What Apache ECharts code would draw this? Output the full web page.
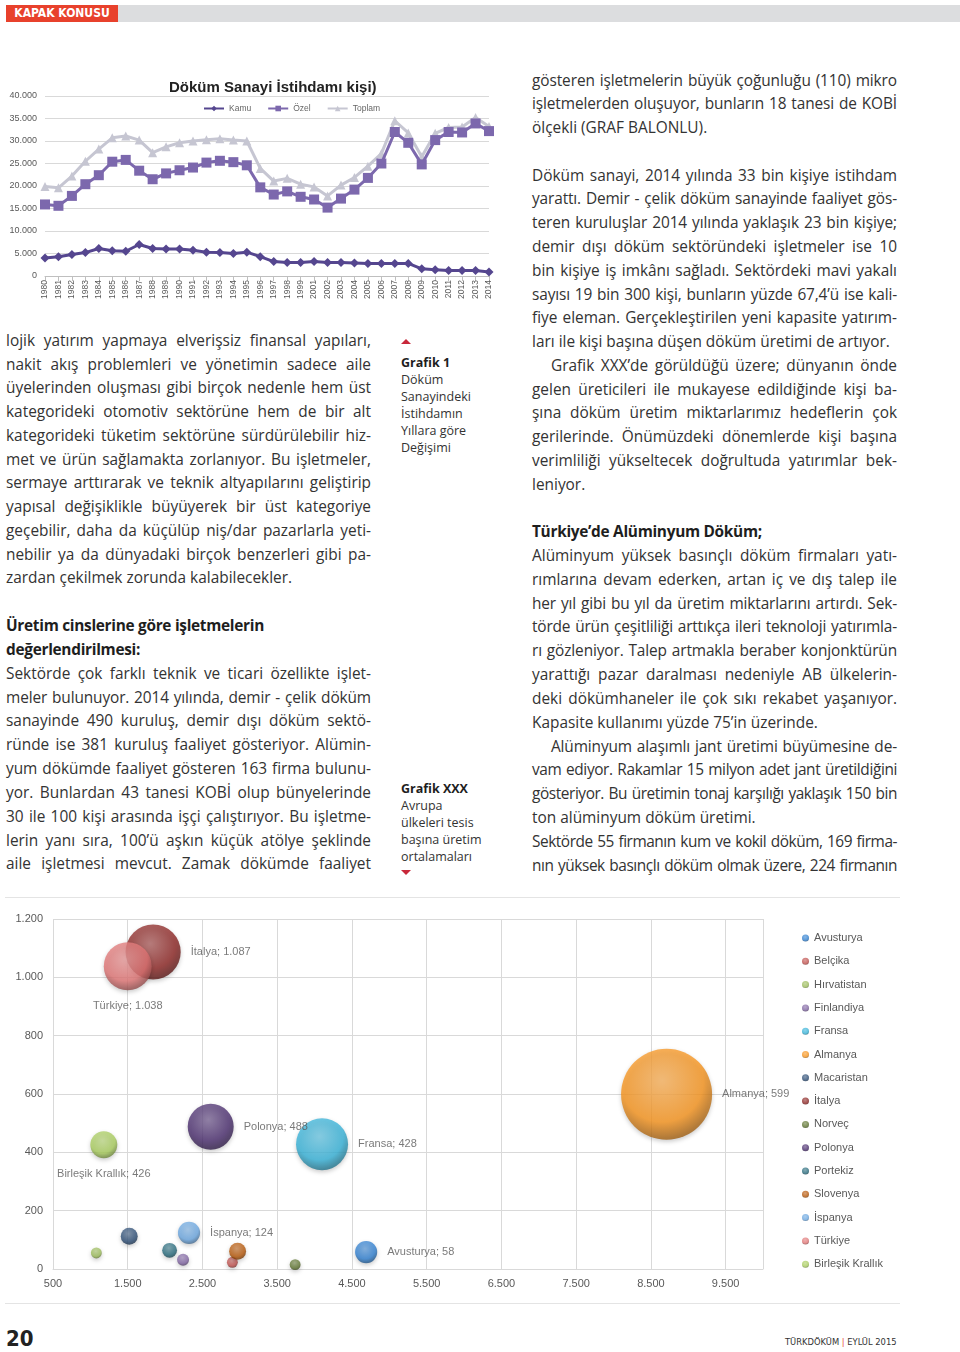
<!DOCTYPE html>
<html><head><meta charset="utf-8">
<script src="https://cdn.jsdelivr.net/npm/echarts@6/dist/echarts.min.js"></script>
<style>
html,body{margin:0;padding:0;background:#fff;}
body{width:960px;height:1352px;position:relative;overflow:hidden;font-family:'Open Sans',sans-serif;color:#333;}
.ln{position:absolute;white-space:nowrap;line-height:24px;height:24px;}
.cap{position:absolute;left:401px;font-size:12.5px;line-height:17px;color:#333;white-space:nowrap;}
#hdrRed{position:absolute;left:6px;top:5px;width:112px;height:17px;background:#e8412c;color:#fff;font:bold 12px 'Liberation Sans Narrow','DejaVu Sans Condensed',sans-serif;line-height:17px;text-align:center;}
#hdrGray{position:absolute;left:118px;top:5px;right:0;height:17px;background:#dcdddf;}
#c1{position:absolute;left:5px;top:65px;width:500px;height:250px;}
#c2{position:absolute;left:5px;top:897px;width:895px;height:405px;border-top:1px solid #e4e4e4;border-bottom:1px solid #e4e4e4;}
#pg{position:absolute;left:6px;top:1326px;font:bold 22px 'Liberation Sans Narrow','DejaVu Sans Condensed',sans-serif;color:#222;}
#mag{position:absolute;left:785px;top:1336px;font:9.3px 'Liberation Sans Narrow','DejaVu Sans Condensed',sans-serif;color:#333;}
.tri{position:absolute;left:401px;width:0;height:0;border-left:5px solid transparent;border-right:5px solid transparent;}
</style></head>
<body>
<div id="hdrRed">KAPAK KONUSU</div><div id="hdrGray"></div>
<div id="c1"></div>
<div id="c2"></div>
<div class="tri" style="top:339px;border-bottom:5px solid #c8283a;"></div>
<div class="tri" style="top:870px;border-top:5px solid #c8283a;"></div>
<div id="pg">20</div>
<div id="mag">TÜRKDÖKÜM <span style="color:#e8412c">|</span> EYLÜL 2015</div>
<script>
// ---------- Chart 1 data: Döküm Sanayi İstihdamı ----------
const years = ['1980','1981','1982','1983','1984','1985','1986','1987','1988','1989','1990','1991','1992','1993','1994','1995','1996','1997','1998','1999','2001','2002','2003','2004','2005','2006','2007','2008','2009','2010','2011','2012','2013','2014'];
const kamu = [4000,4300,4800,5200,6100,5600,5500,7000,6100,6000,6000,5700,5300,5200,5000,5300,4300,3200,3000,3000,3200,3000,3000,2900,2800,2800,2800,2800,1600,1400,1200,1200,1200,900];
const ozel = [15900,15600,17800,20400,22400,25400,25800,23400,21500,22800,23500,24100,25200,25600,25300,24600,19700,18100,18800,17600,17000,15200,17200,19200,21800,25000,32000,29600,24800,30200,32000,31900,33900,32200];
const toplam = [19900,19600,22200,25500,28200,30700,31100,30200,27400,28700,29600,30000,30300,30500,30200,30000,23900,21100,21700,20400,19800,17800,20200,21900,24400,27200,34500,31800,26500,31700,33000,33100,35200,33200];

// ---------- Chart 2 data: Avrupa ülkeleri tesis başına üretim ----------
const countries = ['Avusturya','Belçika','Hırvatistan','Finlandiya','Fransa','Almanya','Macaristan','İtalya','Norveç','Polonya','Portekiz','Slovenya','İspanya','Türkiye','Birleşik Krallık'];
const xVals = [4690,2900,1080,2240,4100,8710,1520,1840,3740,2610,2060,2970,2320,1500,1180];
const yVals = [58,23,55,32,428,599,112,1087,15,488,64,61,124,1038,426];
const sizeVals = [290,70,70,85,1600,4900,170,1800,70,1250,130,170,290,1360,430];

const fmt = v => String(v).replace(/\B(?=(\d{3})+(?!\d))/g, '.');

// ---------- Chart 1 ----------
const c1 = echarts.init(document.getElementById('c1'));
const axisTxt = {color:'#595959', fontFamily:"'Liberation Sans',sans-serif"};
c1.setOption({
  animation:false,
  title:{text:'Döküm Sanayi İstihdamı kişi)', left:159, top:10, textStyle:{fontSize:15, fontWeight:'bold', color:'#222', fontFamily:"'Liberation Sans',sans-serif"}},
  legend:{left:193, top:34, itemWidth:20, itemHeight:7, itemGap:16, data:['Kamu','Özel','Toplam'], textStyle:{fontSize:8.5, color:'#666', fontFamily:"'Liberation Sans',sans-serif"}},
  grid:{left:40, right:16, top:31, bottom:39},
  xAxis:{type:'category', data:years, boundaryGap:false,
    axisLine:{lineStyle:{color:'#bfbfbf'}}, axisTick:{show:true, lineStyle:{color:'#bfbfbf'}},
    axisLabel:Object.assign({interval:0, rotate:90, fontSize:8.5, margin:4}, axisTxt)},
  yAxis:{type:'value', min:0, max:40000, interval:5000,
    axisLine:{show:false}, axisTick:{show:false},
    splitLine:{lineStyle:{color:'#d9d9d9'}},
    axisLabel:Object.assign({fontSize:9, margin:8, formatter:fmt}, axisTxt)},
  series:[
    {name:'Kamu', type:'line', data:kamu, z:3, symbol:'diamond', symbolSize:9, lineStyle:{width:3, color:'#55468f'}, itemStyle:{color:'#55468f'}},
    {name:'Özel', type:'line', data:ozel, z:3, symbol:'rect', symbolSize:10, lineStyle:{width:3, color:'#7c68ad'}, itemStyle:{color:'#7c68ad'}},
    {name:'Toplam', type:'line', data:toplam, z:2, symbol:'triangle', symbolSize:9, lineStyle:{width:3, color:'#c6c6d2'}, itemStyle:{color:'#c6c6d2'}}
  ]
});

// ---------- Chart 2 ----------
const colors = ['#2f7fd0','#c0504d','#9bbb59','#8064a2','#36b2d8','#f7941d','#2c4d75','#8c2523','#5f7530','#4a2d6e','#276a7c','#b65708','#6aa6e0','#e07474','#a8cc5c'];
const labelPos = {'İtalya':'right','Türkiye':'bottom','Polonya':'right','Fransa':'right','Birleşik Krallık':'bottom','Almanya':'right','İspanya':'right','Avusturya':'right'};
function shade(hex, amt){
  const n = parseInt(hex.slice(1),16); let r=n>>16, g=(n>>8)&255, b=n&255;
  const f = c => Math.max(0, Math.min(255, Math.round(amt>0 ? c+(255-c)*amt : c*(1+amt))));
  return 'rgb('+f(r)+','+f(g)+','+f(b)+')';
}
const series2 = countries.map((name,i)=>({
  name, type:'scatter',
  data:[[xVals[i], yVals[i], sizeVals[i]]],
  symbolSize: v => Math.sqrt(v[2])*1.3,
  itemStyle:{color:{type:'radial', x:0.45, y:0.35, r:0.65, colorStops:[
      {offset:0, color:shade(colors[i],0.3)},{offset:0.7, color:colors[i]},{offset:1, color:shade(colors[i],-0.35)}]},
    shadowColor:'rgba(0,0,0,0.25)', shadowBlur:4, shadowOffsetY:2},
  label:{show: !!labelPos[name], position: labelPos[name]||'right', distance:10,
    formatter: p => p.seriesName + '; ' + fmt(p.value[1]),
    fontSize:11, color:'#595959', fontFamily:"'Liberation Sans',sans-serif"}
}));
const c2 = echarts.init(document.getElementById('c2'));
c2.setOption({
  animation:false,
  color:colors,
  grid:{left:48, right:137, top:21, bottom:34},
  legend:{orient:'vertical', left:792, top:29, icon:'circle', itemWidth:7, itemHeight:7, itemGap:11.3,
    data:countries, textStyle:{fontSize:11, color:'#595959', lineHeight:12, fontFamily:"'Liberation Sans',sans-serif"}},
  xAxis:{type:'value', min:500, max:10000, interval:1000,
    axisLine:{show:true, lineStyle:{color:'#d9d9d9'}}, axisTick:{show:false},
    splitLine:{lineStyle:{color:'#d9d9d9'}},
    axisLabel:Object.assign({fontSize:11, margin:9, formatter:fmt, showMaxLabel:false}, axisTxt)},
  yAxis:{type:'value', min:0, max:1200, interval:200,
    axisLine:{show:false}, axisTick:{show:false},
    splitLine:{lineStyle:{color:'#d9d9d9'}},
    axisLabel:Object.assign({fontSize:11, margin:10, formatter:fmt}, axisTxt)},
  series:series2
});

// ---------- Page text ----------
const canvas = document.createElement('canvas'); const ctx = canvas.getContext('2d');
const FF = "'Open Sans', sans-serif";
function tw(t, size, wt){ ctx.font = (wt||400)+' '+size+'px '+FF; return ctx.measureText(t).width; }
const FS = (16*290/tw('zardan çekilmek zorunda kalabilecekler.',16) + 16*221/tw('ton alüminyum döküm üretimi.',16))/2;
const HEAD = 'Üretim cinslerine göre işletmelerin';
const LSB = (258 - tw(HEAD, FS, 700)) / HEAD.length;
function addLine(x, w, y, text, mode){
  text = text.replace(/\s+/g,' ');
  const d = document.createElement('div'); d.className='ln'; d.textContent = text;
  let wt = 400, indent = 0;
  if(mode==='b'){ wt=700; d.style.fontWeight='700'; d.style.color='#1e1e1e'; d.style.letterSpacing = LSB+'px'; }
  if(mode==='ji'||mode==='li') indent = 19;
  d.style.left = (x+indent)+'px'; d.style.top = (y-12)+'px'; d.style.fontSize = FS+'px';
  if(mode==='j'||mode==='ji'){
    const avail = w-indent;
    const nat = tw(text, FS, wt); const sp = (text.match(/ /g)||[]).length;
    if(nat + sp*1 > avail){
      const ls = (avail - nat - sp*1) / text.length;
      d.style.letterSpacing = ls+'px';
      d.style.wordSpacing = '1px';
    } else if(sp>0){
      d.style.wordSpacing = ((avail-nat)/sp)+'px';
    }
  }
  document.body.appendChild(d);
}
const leftLines = [
 [341,'lojik yatırım yapmaya elverişsiz finansal yapıları,','j'],
 [365,'nakit akış problemleri ve yönetimin sadece aile','j'],
 [388,'üyelerinden oluşması gibi birçok nedenle hem üst','j'],
 [412,'kategorideki otomotiv sektörüne hem de bir alt','j'],
 [436,'kategorideki tüketim sektörüne sürdürülebilir hiz-','j'],
 [460,'met ve ürün sağlamakta zorlanıyor. Bu işletmeler,','j'],
 [483,'sermaye arttırarak ve teknik altyapılarını geliştirip','j'],
 [507,'yapısal değişiklikle büyüyerek bir üst kategoriye','j'],
 [531,'geçebilir, daha da küçülüp niş/dar pazarlarla yeti-','j'],
 [555,'nebilir ya da dünyadaki birçok benzerleri gibi pa-','j'],
 [578,'zardan çekilmek zorunda kalabilecekler.','l'],
 [626,'Üretim cinslerine göre işletmelerin','b'],
 [650,'değerlendirilmesi:','b'],
 [674,'Sektörde çok farklı teknik ve ticari özellikte işlet-','j'],
 [698,'meler bulunuyor. 2014 yılında, demir - çelik döküm','j'],
 [721,'sanayinde 490 kuruluş, demir dışı döküm sektö-','j'],
 [745,'ründe ise 381 kuruluş faaliyet gösteriyor. Alümin-','j'],
 [769,'yum dökümde faaliyet gösteren 163 firma bulunu-','j'],
 [793,'yor. Bunlardan 43 tanesi KOBİ olup bünyelerinde','j'],
 [817,'30 ile 100 kişi arasında işçi çalıştırıyor. Bu işletme-','j'],
 [841,'lerin yanı sıra, 100’ü aşkın küçük atölye şeklinde','j'],
 [864,'aile işletmesi mevcut. Zamak dökümde faaliyet','j']
];
const rightLines = [
 [81,'gösteren işletmelerin büyük çoğunluğu (110) mikro','j'],
 [104,'işletmelerden oluşuyor,  bunların 18 tanesi de KOBİ','j'],
 [128,'ölçekli (GRAF BALONLU).','l'],
 [176,'Döküm sanayi, 2014 yılında 33 bin kişiye istihdam','j'],
 [199,'yarattı. Demir - çelik döküm sanayinde faaliyet gös-','j'],
 [223,'teren kuruluşlar 2014 yılında yaklaşık 23 bin kişiye;','j'],
 [247,'demir dışı döküm sektöründeki işletmeler ise 10','j'],
 [271,'bin kişiye iş imkânı sağladı. Sektördeki mavi yakalı','j'],
 [295,'sayısı 19 bin 300 kişi, bunların yüzde 67,4’ü ise kali-','j'],
 [318,'fiye eleman. Gerçekleştirilen yeni kapasite yatırım-','j'],
 [342,'ları ile kişi başına düşen döküm üretimi de artıyor.','l'],
 [366,'Grafik XXX’de görüldüğü üzere; dünyanın önde','ji'],
 [390,'gelen üreticileri ile mukayese edildiğinde kişi ba-','j'],
 [413,'şına döküm üretim miktarlarımız hedeflerin çok','j'],
 [437,'gerilerinde. Önümüzdeki dönemlerde kişi başına','j'],
 [461,'verimliliği yükseltecek doğrultuda yatırımlar bek-','j'],
 [485,'leniyor.','l'],
 [532,'Türkiye’de Alüminyum Döküm;','b'],
 [556,'Alüminyum yüksek basınçlı döküm firmaları yatı-','j'],
 [580,'rımlarına devam ederken, artan iç ve dış talep ile','j'],
 [604,'her yıl gibi bu yıl da üretim miktarlarını artırdı. Sek-','j'],
 [627,'törde ürün çeşitliliği arttıkça ileri teknoloji yatırımla-','j'],
 [651,'rı gözleniyor. Talep artmakla beraber konjonktürün','j'],
 [675,'yarattığı pazar daralması nedeniyle AB ülkelerin-','j'],
 [699,'deki dökümhaneler ile çok sıkı rekabet yaşanıyor.','j'],
 [723,'Kapasite kullanımı yüzde 75’in üzerinde.','l'],
 [747,'Alüminyum alaşımlı jant üretimi büyümesine de-','ji'],
 [770,'vam ediyor. Rakamlar 15 milyon adet jant üretildiğini','j'],
 [794,'gösteriyor.  Bu üretimin tonaj karşılığı yaklaşık 150 bin','j'],
 [818,'ton alüminyum döküm üretimi.','l'],
 [842,'Sektörde 55 firmanın kum ve kokil döküm, 169 firma-','j'],
 [866,'nın yüksek basınçlı döküm olmak üzere, 224 firmanın','j']
];
leftLines.forEach(l=>addLine(6,365,l[0],l[1],l[2]));
rightLines.forEach(l=>addLine(532,365,l[0],l[1],l[2]));
const caps = [
 [363,'Grafik 1',true],[380,'Döküm'],[397,'Sanayindeki'],[414,'İstihdamın'],[431,'Yıllara göre'],[448,'Değişimi'],
 [789,'Grafik XXX',true],[806,'Avrupa'],[823,'ülkeleri tesis'],[840,'başına üretim'],[857,'ortalamaları']
];
caps.forEach(c=>{const d=document.createElement('div');d.className='cap';d.textContent=c[1];d.style.top=(c[0]-9)+'px';if(c[2]){d.style.fontWeight='700';d.style.color='#1e1e1e';}document.body.appendChild(d);});
</script>
</body></html>
